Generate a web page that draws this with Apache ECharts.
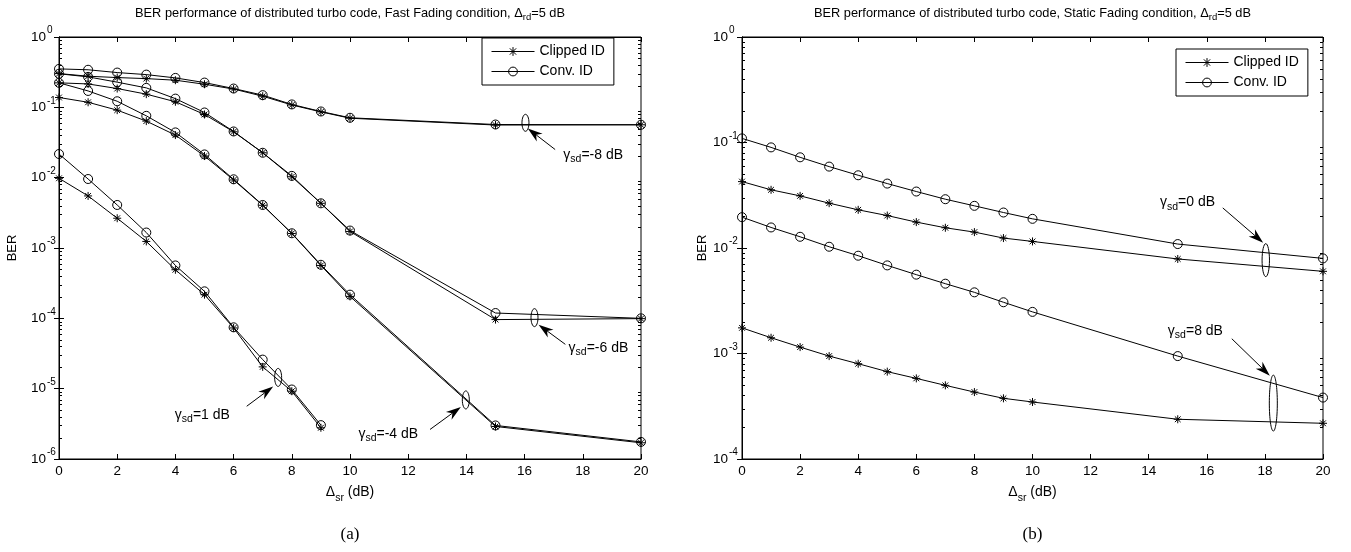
<!DOCTYPE html>
<html>
<head>
<meta charset="utf-8">
<script src="https://cdn.jsdelivr.net/npm/echarts@6/dist/echarts.min.js"></script>
<style>
  html, body { margin: 0; padding: 0; background: #fff; }
  #main { width: 1351px; height: 552px; }
</style>
</head>
<body>
<div id="main"></div>
<script>
// x values (Delta_sr, dB)
var snrX = [0, 1, 2, 3, 4, 5, 6, 7, 8, 9, 10, 15, 20];
var snrX9 = [0, 1, 2, 3, 4, 5, 6, 7, 8, 9];

// (a) fast fading, gamma_sd = -8, -6, -4, 1 dB
var fastClipM8 = [0.302, 0.277, 0.265, 0.256, 0.243, 0.213, 0.182, 0.144, 0.108, 0.0862, 0.0700, 0.0560, 0.0565];
var fastConvM8 = [0.352, 0.342, 0.312, 0.292, 0.262, 0.225, 0.185, 0.149, 0.110, 0.0873, 0.0710, 0.0570, 0.0565];
var fastClipM6 = [0.223, 0.215, 0.185, 0.154, 0.120, 0.0791, 0.0449, 0.0226, 0.0103, 0.00432, 0.00172, 9.6e-5, 9.9e-5];
var fastConvM6 = [0.300, 0.271, 0.228, 0.189, 0.133, 0.0845, 0.0454, 0.0226, 0.0106, 0.00432, 0.00177, 1.19e-4, 1.0e-4];
var fastClipM4 = [0.138, 0.118, 0.0912, 0.0637, 0.0403, 0.0203, 0.00927, 0.00405, 0.00161, 5.65e-4, 2.05e-4, 2.9e-6, 1.7e-6];
var fastConvM4 = [0.223, 0.171, 0.122, 0.0757, 0.0440, 0.0214, 0.00948, 0.00409, 0.00162, 5.77e-4, 2.17e-4, 3.0e-6, 1.75e-6];
var fastClip1 = [0.0098, 0.0055, 0.00265, 0.00124, 4.9e-4, 2.17e-4, 7.3e-5, 2.04e-5, 9.2e-6, 2.78e-6];
var fastConv1 = [0.0217, 0.00957, 0.00409, 0.00166, 5.65e-4, 2.42e-4, 7.45e-5, 2.59e-5, 9.73e-6, 3.03e-6];

// (b) static fading, gamma_sd = 0, 8 dB
var statClip0 = [0.0426, 0.0356, 0.0312, 0.0266, 0.0230, 0.0203, 0.0176, 0.01555, 0.01415, 0.01242, 0.01154, 0.00787, 0.00601];
var statConv0 = [0.1094, 0.0899, 0.0724, 0.0591, 0.0489, 0.0408, 0.0343, 0.0290, 0.0251, 0.0217, 0.0189, 0.0109, 0.00797];
var statClip8 = [1.75e-3, 1.41e-3, 1.15e-3, 9.45e-4, 8.0e-4, 6.73e-4, 5.81e-4, 4.99e-4, 4.31e-4, 3.76e-4, 3.47e-4, 2.38e-4, 2.18e-4];
var statConv8 = [0.0196, 0.01566, 0.01277, 0.01028, 0.00845, 0.00684, 0.00559, 0.00459, 0.00380, 0.00306, 0.00248, 9.45e-4, 3.82e-4];

// lowest / highest decade (exponent) of each y axis
var decadesA = [-6, 0];
var decadesB = [-4, 0];

var legendNames = ['Clipped ID', 'Conv. ID'];
var titles = [
  'BER performance of distributed turbo code, Fast Fading condition, ',
  'BER performance of distributed turbo code, Static Fading condition, '
];
var panelTags = ['(a)', '(b)'];

// annotations: ellipse centre [x, log10 y], tail/tip of arrow, text anchor
var notesA = [
  { label: '-8 dB', c: [16.03, -1.22], r: [3.5, 8.5], tail: [17.05, -1.60], tip: [16.11, -1.30], at: [17.33, -1.68] },
  { label: '-6 dB', c: [16.34, -3.99], r: [3.5, 9], tail: [17.40, -4.37], tip: [16.48, -4.09], at: [17.51, -4.42] },
  { label: '-4 dB', c: [13.98, -5.16], r: [3.5, 9], tail: [12.75, -5.58], tip: [13.81, -5.26], at: [10.29, -5.65] },
  { label: '1 dB', c: [7.53, -4.84], r: [3.5, 9], tail: [6.45, -5.25], tip: [7.36, -4.97], at: [3.98, -5.37] }
];
var notesB = [
  { label: '0 dB', c: [18.03, -2.115], r: [3.7, 16.5], tail: [16.55, -1.62], tip: [17.94, -1.95], at: [14.39, -1.57] },
  { label: '8 dB', c: [18.29, -3.47], r: [4, 28], tail: [16.86, -2.86], tip: [18.17, -3.21], at: [14.66, -2.79] }
];

var FONT = '"Liberation Sans", Arial, sans-serif';
var STAR = 'path://M0,-1L0,1M-1,0L1,0M-0.72,-0.72L0.72,0.72M-0.72,0.72L0.72,-0.72';

var chart = echarts.init(document.getElementById('main'));

function pts(xs, ys) {
  return xs.map(function (x, i) { return [x, ys[i]]; });
}

function curve(name, xs, ys, g, star) {
  return {
    name: name,
    type: 'line',
    xAxisIndex: g * 2,
    yAxisIndex: g * 2,
    data: pts(xs, ys),
    symbol: star ? STAR : 'circle',
    symbolSize: star ? 8 : 9,
    lineStyle: { color: '#000', width: 1 },
    itemStyle: { color: star ? '#000' : 'rgba(0,0,0,0)', borderColor: '#000', borderWidth: 1 },
    emphasis: { disabled: true },
    z: star ? 3 : 2
  };
}

// minor log ticks on left and right edges
function minorTicks(g, dec) {
  var vals = [];
  for (var e = dec[0]; e < dec[1]; e++) {
    for (var k = 2; k <= 9; k++) vals.push([0, k * Math.pow(10, e)]);
  }
  return {
    type: 'custom',
    xAxisIndex: g * 2,
    yAxisIndex: g * 2,
    silent: true,
    data: vals,
    renderItem: function (params, api) {
      var v = api.value(1);
      var a = api.coord([0, v]);
      var b = api.coord([20, v]);
      var y = Math.round(a[1]) + 0.5;
      return {
        type: 'group',
        children: [
          { type: 'line', shape: { x1: a[0], y1: y, x2: a[0] + 3, y2: y }, style: { stroke: '#000', lineWidth: 1 } },
          { type: 'line', shape: { x1: b[0] - 3, y1: y, x2: b[0], y2: y }, style: { stroke: '#000', lineWidth: 1 } }
        ]
      };
    }
  };
}

function xAxes(g) {
  var line = { show: true, lineStyle: { color: '#000', width: 1 } };
  var tick = { show: true, inside: true, length: 5, lineStyle: { color: '#000', width: 1 } };
  return [
    {
      gridIndex: g, type: 'value', position: 'bottom', min: 0, max: 20, interval: 2,
      splitLine: { show: false }, axisLine: line, axisTick: tick,
      axisLabel: { color: '#000', fontSize: 13.5, fontFamily: FONT, margin: 5 },
      name: '{a|Δ}{s|sr}{a| (dB)}', nameLocation: 'middle', nameGap: 22,
      nameTextStyle: {
        rich: {
          a: { fontSize: 14, fontFamily: FONT, color: '#000' },
          s: { fontSize: 10.5, fontFamily: FONT, color: '#000', padding: [12, 0, 0, 0] }
        }
      }
    },
    {
      gridIndex: g, type: 'value', position: 'top', min: 0, max: 20, interval: 2,
      splitLine: { show: false }, axisLine: line, axisTick: tick, axisLabel: { show: false }
    }
  ];
}

function yAxes(g, dec, margin, gap) {
  var line = { show: true, lineStyle: { color: '#000', width: 1 } };
  var tick = { show: true, inside: true, length: 5, lineStyle: { color: '#000', width: 1 } };
  var lo = Math.pow(10, dec[0]);
  var hi = Math.pow(10, dec[1]);
  return [
    {
      gridIndex: g, type: 'log', logBase: 10, position: 'left', min: lo, max: hi,
      splitLine: { show: false }, axisLine: line, axisTick: tick,
      axisLabel: {
        align: 'left', margin: margin,
        formatter: function (v) {
          return '{b|10}{e|' + Math.round(Math.log10(v)) + '}';
        },
        rich: {
          b: { fontSize: 13.5, fontFamily: FONT, color: '#000' },
          e: { fontSize: 10, fontFamily: FONT, color: '#000', padding: [0, 0, 13, 1] }
        }
      },
      name: 'BER', nameLocation: 'middle', nameGap: gap,
      nameTextStyle: { fontSize: 13, fontFamily: FONT, color: '#000' }
    },
    {
      gridIndex: g, type: 'log', logBase: 10, position: 'right', min: lo, max: hi,
      splitLine: { show: false }, axisLine: line, axisTick: tick, axisLabel: { show: false }
    }
  ];
}

function legend(left, top) {
  return {
    orient: 'vertical', left: left, top: top,
    padding: [6, 9, 6, 9], itemGap: 5, itemWidth: 43, itemHeight: 11,
    borderColor: '#000', borderWidth: 1, borderRadius: 0, backgroundColor: '#fff',
    data: legendNames, selectedMode: false, z: 20,
    lineStyle: { width: 1, color: '#000' },
    itemStyle: { borderWidth: 1, borderColor: '#000' },
    textStyle: { fontSize: 14, fontFamily: FONT, color: '#000', lineHeight: 15 }
  };
}

var option = {
  animation: false,
  backgroundColor: '#fff',
  grid: [
    { left: 59, top: 37, width: 582, height: 422, show: true, borderColor: '#000', borderWidth: 1, backgroundColor: '#fff' },
    { left: 742, top: 37, width: 581, height: 422, show: true, borderColor: '#000', borderWidth: 1, backgroundColor: '#fff' }
  ],
  legend: [legend(482, 38), legend(1176, 49)],
  xAxis: xAxes(0).concat(xAxes(1)),
  yAxis: yAxes(0, decadesA, 28, 40).concat(yAxes(1, decadesB, 29, 32)),
  series: [
    curve('Clipped ID', snrX, fastClipM8, 0, true),
    curve('Conv. ID', snrX, fastConvM8, 0, false),
    curve('Clipped ID', snrX, fastClipM6, 0, true),
    curve('Conv. ID', snrX, fastConvM6, 0, false),
    curve('Clipped ID', snrX, fastClipM4, 0, true),
    curve('Conv. ID', snrX, fastConvM4, 0, false),
    curve('Clipped ID', snrX9, fastClip1, 0, true),
    curve('Conv. ID', snrX9, fastConv1, 0, false),
    curve('Clipped ID', snrX, statClip0, 1, true),
    curve('Conv. ID', snrX, statConv0, 1, false),
    curve('Clipped ID', snrX, statClip8, 1, true),
    curve('Conv. ID', snrX, statConv8, 1, false),
    minorTicks(0, decadesA),
    minorTicks(1, decadesB)
  ]
};
chart.setOption(option);

// ---- annotations, titles, panel tags ----
function toPx(g, x, lg) {
  return chart.convertToPixel({ xAxisIndex: g * 2, yAxisIndex: g * 2 }, [x, Math.pow(10, lg)]);
}

var gammaRich = {
  g: { fontSize: 14, fontFamily: FONT, fill: '#000' },
  s: { fontSize: 10.5, fontFamily: FONT, fill: '#000', padding: [8, 0, 0, 0] }
};

function noteGraphics(g, notes) {
  var out = [];
  notes.forEach(function (n) {
    var c = toPx(g, n.c[0], n.c[1]);
    out.push({ type: 'ellipse', silent: true, z: 10,
      shape: { cx: c[0], cy: c[1], rx: n.r[0], ry: n.r[1] },
      style: { fill: 'none', stroke: '#000', lineWidth: 1 } });
    var t = toPx(g, n.tail[0], n.tail[1]);
    var h = toPx(g, n.tip[0], n.tip[1]);
    var dx = h[0] - t[0], dy = h[1] - t[1];
    var len = Math.sqrt(dx * dx + dy * dy);
    var ux = dx / len, uy = dy / len;
    var L = 15, W = 4.8, N = 4.5;
    var bx = h[0] - ux * L, by = h[1] - uy * L;
    out.push({ type: 'line', silent: true, z: 10,
      shape: { x1: t[0], y1: t[1], x2: bx + ux * N, y2: by + uy * N },
      style: { stroke: '#000', lineWidth: 1 } });
    out.push({ type: 'polygon', silent: true, z: 10,
      shape: { points: [[h[0], h[1]], [bx - uy * W, by + ux * W], [bx + ux * N, by + uy * N], [bx + uy * W, by - ux * W]] },
      style: { fill: '#000' } });
    var a = toPx(g, n.at[0], n.at[1]);
    out.push({ type: 'text', silent: true, z: 10, x: a[0], y: a[1],
      style: { text: '{g|γ}{s|sd}{g|=' + n.label + '}', rich: gammaRich, align: 'left', verticalAlign: 'middle' } });
  });
  return out;
}

var titleRich = {
  t: { fontSize: 12.8, fontFamily: FONT, fill: '#000' },
  s: { fontSize: 9.5, fontFamily: FONT, fill: '#000', padding: [9, 0, 0, 0] }
};

var graphics = noteGraphics(0, notesA).concat(noteGraphics(1, notesB));
[0, 1].forEach(function (g) {
  var l = toPx(g, 0, 0), r = toPx(g, 20, 0);
  var cx = (l[0] + r[0]) / 2;
  graphics.push({ type: 'text', silent: true, x: cx, y: 13,
    style: { text: '{t|' + titles[g] + 'Δ}{s|rd}{t|=5 dB}', rich: titleRich, align: 'center', verticalAlign: 'middle' } });
  graphics.push({ type: 'text', silent: true, x: cx, y: 535,
    style: { text: panelTags[g], fontSize: 17, fontFamily: '"Liberation Serif", "Times New Roman", serif', fill: '#000', align: 'center', verticalAlign: 'middle' } });
});

chart.setOption({ graphic: graphics });
</script>
</body>
</html>
